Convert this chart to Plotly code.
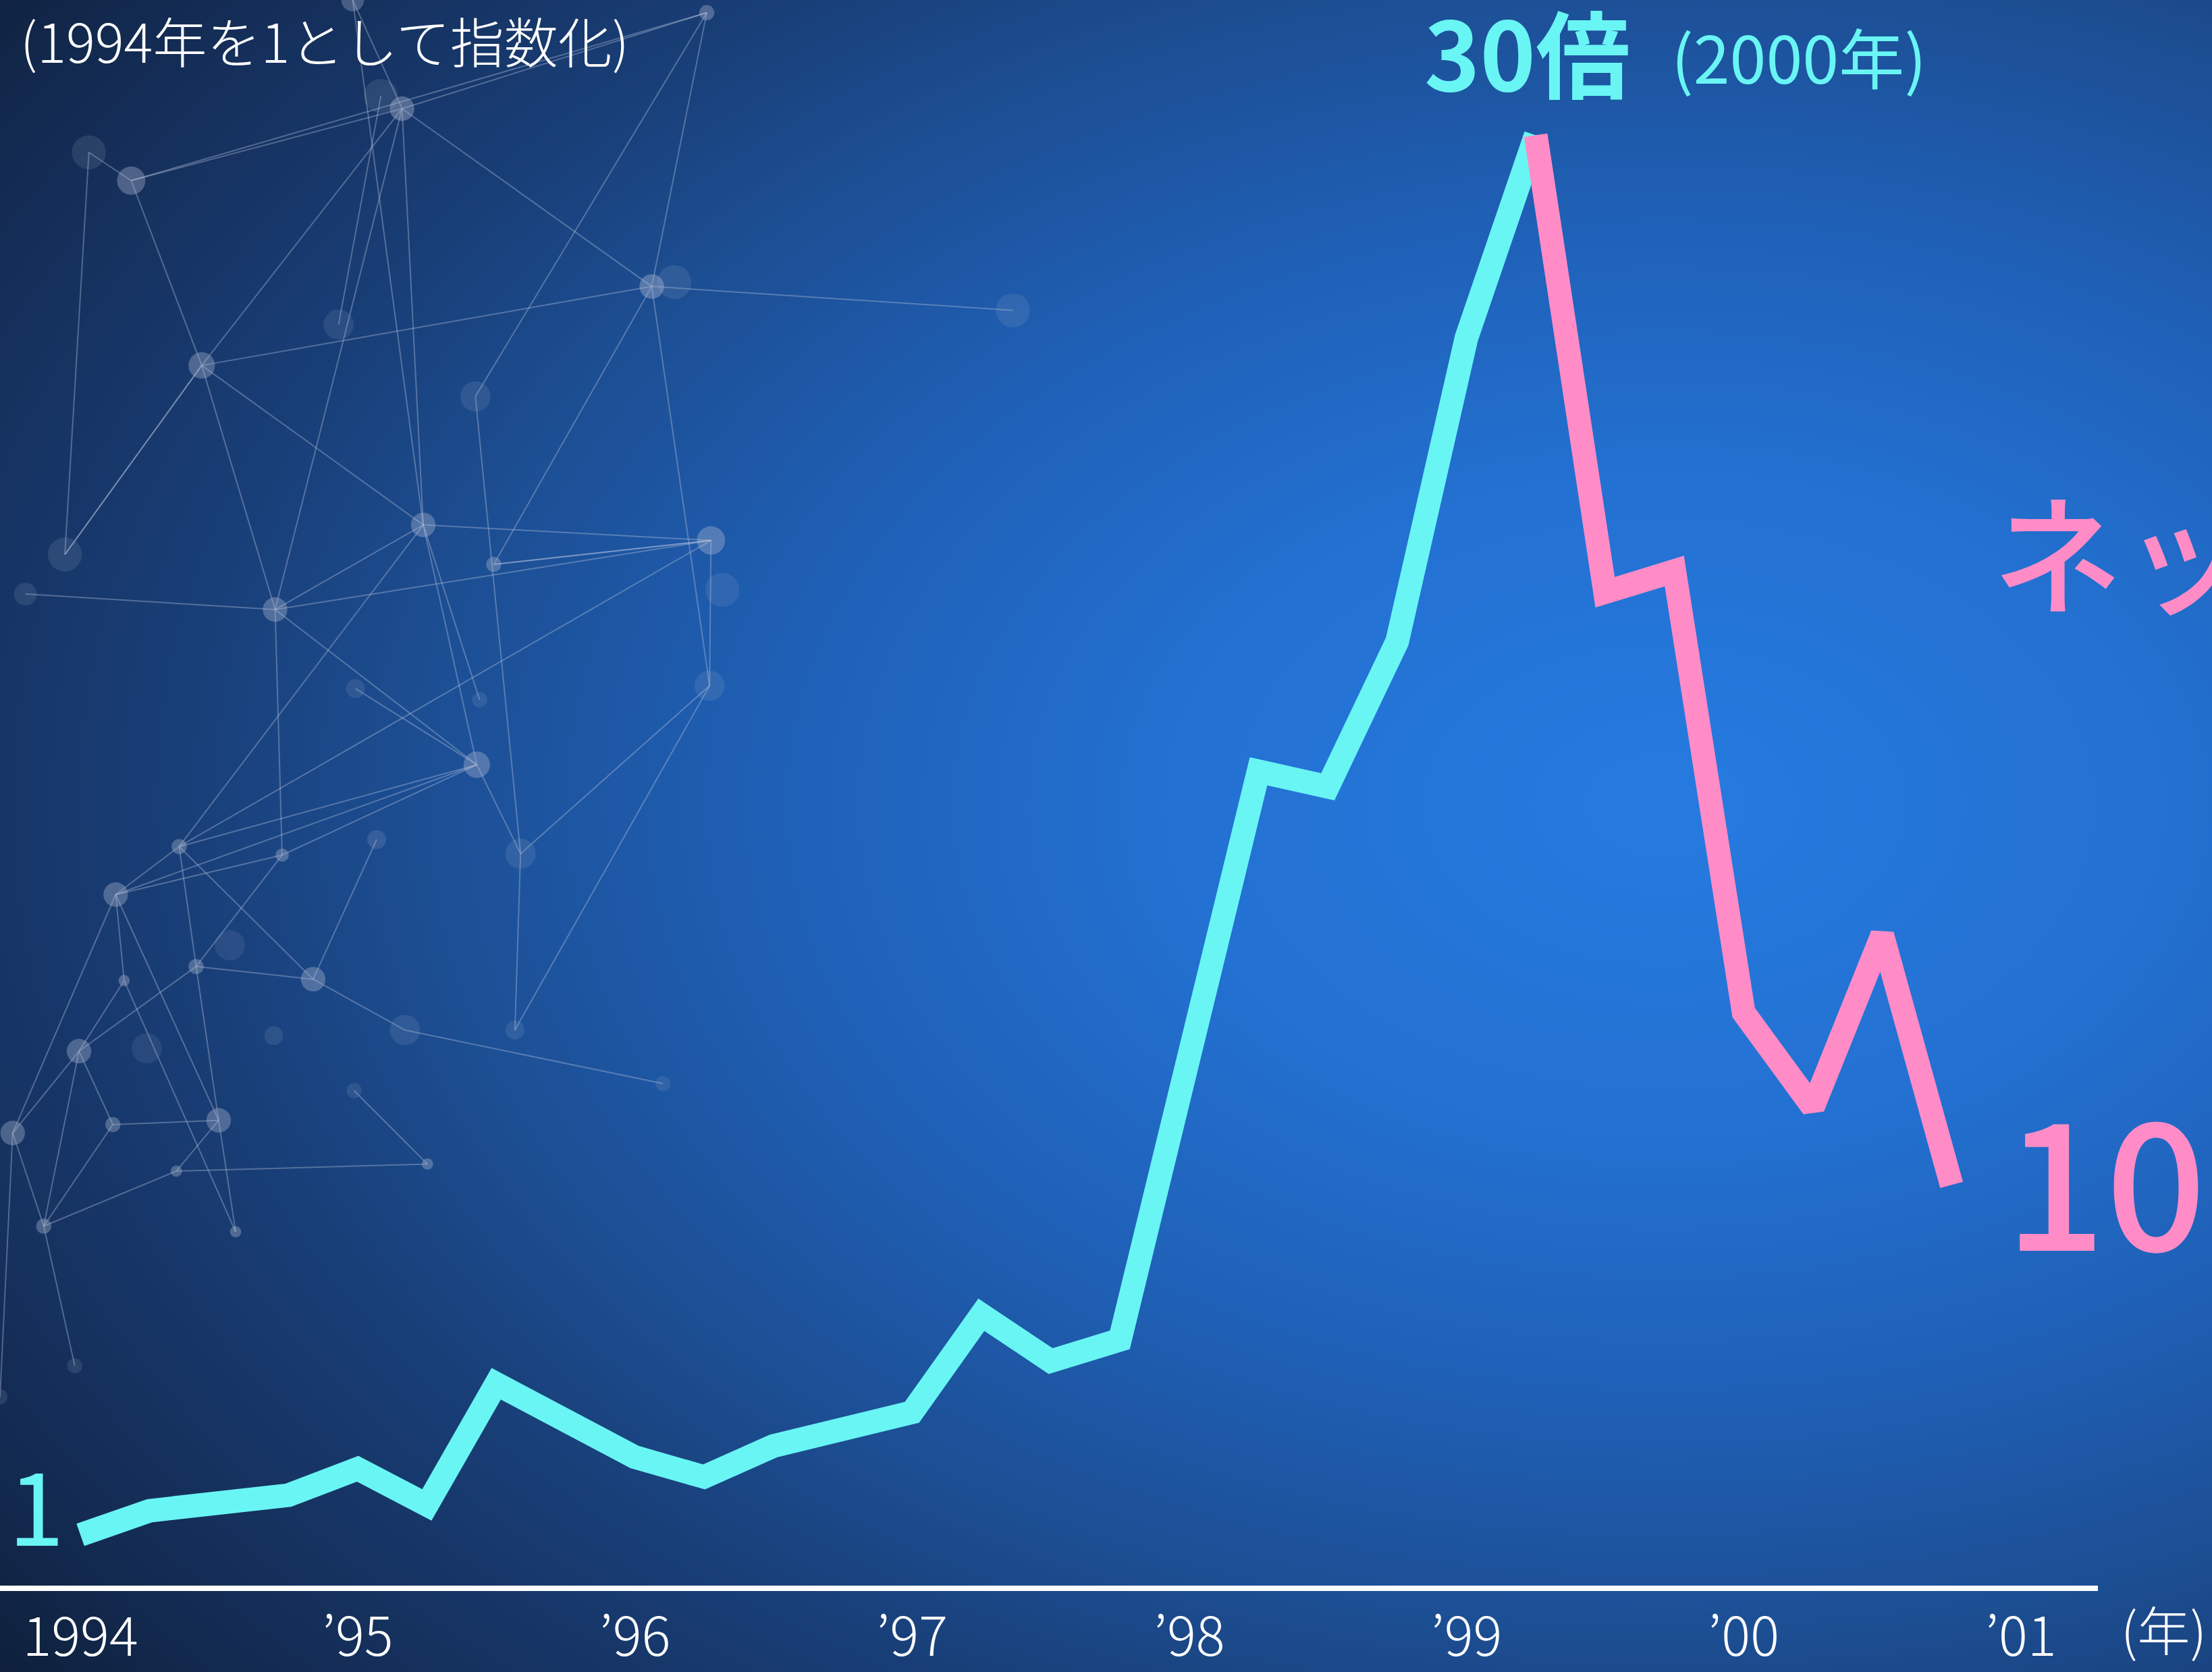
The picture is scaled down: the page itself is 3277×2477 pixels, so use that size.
import numpy as np
import plotly.graph_objects as go

W, H = 3277, 2477

# ---------------- data ----------------
years_rise = [1994.0, 1994.25, 1994.75, 1995.0, 1995.25, 1995.5, 1996.0, 1996.25,
              1996.5, 1997.0, 1997.25, 1997.5, 1997.75, 1998.25, 1998.5, 1998.75,
              1999.0, 1999.25]
index_rise = [1.0, 1.5, 1.82, 2.37, 1.62, 4.13, 2.61, 2.2,
              2.84, 3.54, 5.56, 4.6, 5.04, 16.82, 16.5, 19.51,
              25.8, 30.0]
years_fall = [1999.25, 1999.5, 1999.75, 2000.0, 2000.25, 2000.5, 2000.75]
index_fall = [30.0, 20.53, 20.97, 11.82, 9.86, 13.43, 8.25]

tick_years = [1994, 1995, 1996, 1997, 1998, 1999, 2000, 2001]
tick_labels = ["1994", "’95", "’96", "’97", "’98", "’99", "’00", "’01"]

# decorative network background (picture coordinates of a 1568x1185 canvas)
net_nodes = [
    (250, 0, 12, 0.45), (285, 77, 13, 0.55), (270, 68, 18, 0.2), (63, 108, 18, 0.2),
    (93, 128, 15, 0.5), (501, 9, 8, 0.5), (462, 203, 13, 0.55), (478, 200, 18, 0.2),
    (718, 220, 18, 0.2), (143, 259, 14, 0.5), (240, 230, 16, 0.18), (337, 281, 16, 0.2),
    (300, 372, 13, 0.5), (350, 400, 8, 0.5), (504, 383, 15, 0.5), (512, 418, 18, 0.18),
    (46, 393, 18, 0.2), (18, 421, 12, 0.2), (195, 432, 13, 0.5), (503, 486, 16, 0.2),
    (338, 542, 14, 0.5), (252, 488, 10, 0.2), (340, 496, 8, 0.2), (127, 600, 8, 0.5),
    (200, 606, 7, 0.5), (267, 595, 10, 0.25), (369, 605, 16, 0.2), (82, 634, 13, 0.5),
    (222, 694, 13, 0.5), (139, 685, 8, 0.5), (88, 695, 6, 0.5), (163, 670, 16, 0.15),
    (287, 730, 16, 0.2), (365, 730, 10, 0.2), (194, 734, 10, 0.2), (56, 745, 13, 0.5),
    (104, 743, 16, 0.15), (251, 773, 8, 0.2), (470, 768, 8, 0.2), (9, 803, 13, 0.5),
    (80, 797, 8, 0.5), (155, 794, 13, 0.5), (125, 830, 6, 0.5), (303, 825, 6, 0.5),
    (31, 869, 8, 0.5), (167, 873, 6, 0.5), (53, 968, 8, 0.2), (0, 990, 8, 0.2),
]
net_edges = [
    (1, 4), (1, 9), (1, 6), (1, 5), (1, 18), (4, 3), (4, 5), (6, 8), (6, 13), (6, 9),
    (9, 12), (9, 18), (9, 16), (12, 14), (12, 18), (12, 20), (12, 23), (18, 14), (18, 20),
    (18, 24), (20, 23), (20, 27), (14, 23), (14, 13), (23, 27), (23, 29), (23, 28),
    (27, 30), (27, 41), (29, 35), (29, 41), (29, 28), (35, 39), (35, 40), (41, 40),
    (41, 42), (41, 45), (40, 44), (42, 43), (42, 44), (39, 44), (24, 27), (24, 20),
    (28, 32), (19, 33), (32, 38), (16, 9), (0, 12), (5, 11), (11, 26), (13, 14),
    (10, 2), (1, 12), (6, 19), (19, 26), (25, 28), (24, 29), (46, 44), (47, 39),
    (17, 18), (21, 20), (22, 12), (30, 35), (33, 26), (43, 37), (45, 30),
    (3, 16), (4, 9), (5, 6), (0, 1), (14, 19), (20, 26), (27, 39), (35, 44),
]

# ---------------- helpers ----------------
def px(x):
    return x / W


def py(y):
    return 1 - y / H


CYAN = "#69F5F4"
PINK = "#FF8CC6"
JP = "Noto Sans CJK JP"

fig = go.Figure()

# background radial glow (decorative)
gx = np.linspace(-10, 1578, 172)
gy = np.linspace(-10, 1195, 132)
GX, GY = np.meshgrid(gx, gy)
r = np.sqrt(((GX - 1180) / 1150) ** 2 + ((GY - 570) / 766) ** 2)
r = np.clip(r, 0, 1.3)
bg_scale = [
    [0.0, "rgb(38,122,223)"], [0.3 / 1.3, "rgb(35,113,210)"], [0.55 / 1.3, "rgb(31,96,182)"],
    [0.78 / 1.3, "rgb(28,77,145)"], [0.9 / 1.3, "rgb(25,64,122)"], [1.05 / 1.3, "rgb(22,52,100)"],
    [1.19 / 1.3, "rgb(19,42,80)"], [1.0, "rgb(14,32,60)"],
]
fig.add_trace(go.Heatmap(x=gx, y=gy, z=r, zmin=0, zmax=1.3, colorscale=bg_scale,
                         zsmooth="best", showscale=False, hoverinfo="skip",
                         xaxis="x", yaxis="y"))

ex, ey = [], []
for a, b in net_edges:
    ex += [net_nodes[a][0], net_nodes[b][0], None]
    ey += [net_nodes[a][1], net_nodes[b][1], None]
fig.add_trace(go.Scatter(x=ex, y=ey, mode="lines",
                         line=dict(color="rgba(185,195,220,0.38)", width=2),
                         hoverinfo="skip", showlegend=False, xaxis="x", yaxis="y"))
fig.add_trace(go.Scatter(
    x=[n[0] for n in net_nodes], y=[n[1] for n in net_nodes], mode="markers",
    marker=dict(size=[n[2] * 2.8 for n in net_nodes],
                color=[f"rgba(175,185,210,{min(n[3] * 1.05, 0.6):.2f})" for n in net_nodes],
                line=dict(width=0)),
    hoverinfo="skip", showlegend=False, xaxis="x", yaxis="y"))

# main series
fig.add_trace(go.Scatter(x=years_rise, y=index_rise, mode="lines",
                         line=dict(color=CYAN, width=35), showlegend=False,
                         xaxis="x2", yaxis="y2"))
fig.add_trace(go.Scatter(x=years_fall, y=index_fall, mode="lines",
                         line=dict(color=PINK, width=35), showlegend=False,
                         xaxis="x2", yaxis="y2"))

bottom_px = 2349
x_left, x_right = 1993.71, 2001.278
y_bottom = 1 - (bottom_px - 2273.8) / 71.5
y_top = 1 + 2273.8 / 71.5

fig.update_layout(
    width=W, height=H,
    margin=dict(l=0, r=0, t=0, b=0, autoexpand=False),
    paper_bgcolor="rgb(22,50,95)", plot_bgcolor="rgba(0,0,0,0)",
    showlegend=False,
    xaxis=dict(domain=[0, 1], range=[0, 1568], visible=False, fixedrange=True,
               automargin=False),
    yaxis=dict(domain=[0, 1], range=[1185, 0], visible=False, fixedrange=True,
               automargin=False),
    xaxis2=dict(domain=[0, 3108 / W], range=[x_left, x_right], anchor="y2",
                tickmode="array", tickvals=tick_years, ticktext=tick_labels,
                showline=True, linecolor="white", linewidth=8, showgrid=False,
                zeroline=False, ticks="", ticklabelstandoff=0, automargin=False,
                tickfont=dict(family=JP, size=80, color="white", weight=300)),
    yaxis2=dict(domain=[(H - bottom_px) / H, 1], range=[y_bottom, y_top], anchor="x2",
                visible=False, showgrid=False, zeroline=False, automargin=False),
)

ann = [
    dict(text="(1994年を1として指数化)", x=px(28), y=py(58), xanchor="left", yanchor="middle",
         font=dict(family=JP, size=80, color="white", weight=300)),
    dict(text="30倍", x=px(2108), y=py(74), xanchor="left", yanchor="middle",
         font=dict(family=JP, size=140, color=CYAN, weight=700)),
    dict(text="(2000年)", x=px(2474), y=py(82), xanchor="left", yanchor="middle",
         font=dict(family=JP, size=97, color=CYAN, weight=400)),
    dict(text="ネット", x=px(2950), y=py(812), xanchor="left", yanchor="middle",
         font=dict(family=JP, size=192, color=PINK, weight=500)),
    dict(text="10", x=px(2968), y=py(1738), xanchor="left", yanchor="middle",
         font=dict(family=JP, size=262, color=PINK, weight=500)),
    dict(text="1", x=px(10), y=py(2224), xanchor="left", yanchor="middle",
         font=dict(family=JP, size=150, color=CYAN, weight=400)),
    dict(text="(年)", x=px(3140), y=py(2412), xanchor="left", yanchor="middle",
         font=dict(family=JP, size=78, color="white", weight=300)),
]
for a in ann:
    a.update(xref="paper", yref="paper", showarrow=False)
fig.update_layout(annotations=ann)

fig.write_html(
    "out.html", config={"displayModeBar": False},
    post_script=("document.body.style.margin='0px';"
                 "document.body.style.overflow='hidden';"
                 "document.documentElement.style.overflow='hidden';"))
